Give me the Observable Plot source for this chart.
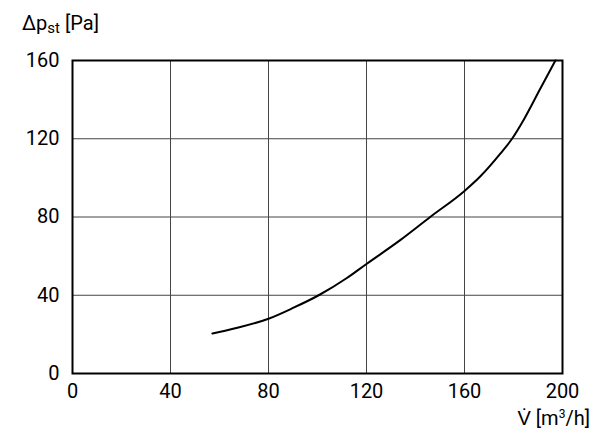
<!DOCTYPE html>
<html>
<head>
<meta charset="utf-8">
<script src="https://cdn.jsdelivr.net/npm/d3@7"></script>
<script src="https://cdn.jsdelivr.net/npm/@observablehq/plot@0.6"></script>
<style>
  html, body { margin: 0; padding: 0; background: #fff; }
  #chart { width: 600px; height: 437px; }
</style>
</head>
<body>
<div id="chart"></div>
<script>
const flowRate = [57.1, 66, 80, 90, 100.5, 112, 120, 133.9, 146, 160, 166.5, 174.7, 179.4, 184.3, 190.7, 197.1];
const pressure = [20.4, 23, 28, 33.5, 40, 48.8, 56, 68.3, 80, 93.3, 100.8, 112.5, 120, 130, 145, 160];
const xTicks = [0, 40, 80, 120, 160, 200];
const yTicks = [0, 40, 80, 120, 160];

const data = flowRate.map((x, i) => ({x, y: pressure[i]}));
const FONT = "Roboto, 'Liberation Sans', sans-serif";

const plot = Plot.plot({
  width: 600,
  height: 437,
  marginLeft: 72,
  marginRight: 38,
  marginTop: 60,
  marginBottom: 64,
  style: {fontFamily: FONT, fontSize: "20px", color: "#000", background: "#fff"},
  x: {domain: [0, 200], ticks: xTicks},
  y: {domain: [0, 160], ticks: yTicks},
  marks: [
    Plot.gridX(xTicks, {stroke: "#444", strokeOpacity: 1, strokeWidth: 1}),
    Plot.gridY(yTicks, {stroke: "#444", strokeOpacity: 1, strokeWidth: 1}),
    Plot.frame({stroke: "#000", strokeWidth: 2}),
    Plot.axisX({ticks: xTicks, tickSize: 0, tickPadding: 10, label: null, fontSize: 20}),
    Plot.axisY({ticks: yTicks, tickSize: 0, tickPadding: 13, label: null, fontSize: 20}),
    Plot.line(data, {x: "x", y: "y", curve: "monotone-x", stroke: "#000", strokeWidth: 2})
  ]
});

const svg = d3.select(plot);
// y-axis label with subscript
const yl = svg.append("text")
  .attr("x", 22).attr("y", 30).attr("text-anchor", "start")
  .attr("font-family", FONT).attr("font-size", 20).attr("fill", "#000");
yl.append("tspan").text("Δp");
yl.append("tspan").attr("font-size", 15).attr("dy", 3).text("st");
yl.append("tspan").attr("dy", -3).text(" [Pa]");

// x-axis label with superscript
const xl = svg.append("text")
  .attr("x", 590).attr("y", 425).attr("text-anchor", "end")
  .attr("font-family", FONT).attr("font-size", 20).attr("fill", "#000");
xl.append("tspan").text("V\u0307 [m");
xl.append("tspan").attr("font-size", 12).attr("dy", -7).text("3");
xl.append("tspan").attr("dy", 7).text("/h]");

document.getElementById("chart").appendChild(plot);
</script>
</body>
</html>
